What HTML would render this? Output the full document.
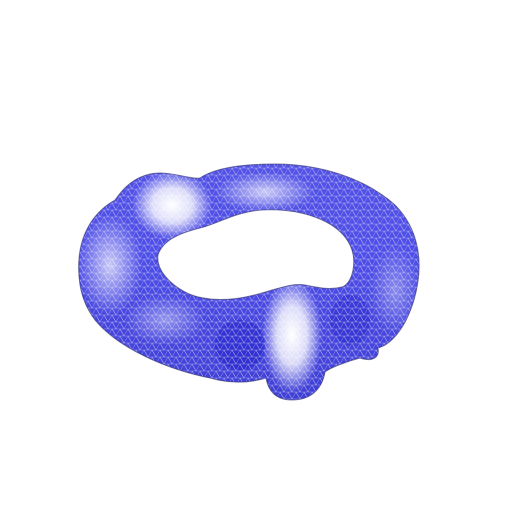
<!DOCTYPE html>
<html><head><meta charset="utf-8"><style>
html,body{margin:0;padding:0;background:#fff;width:512px;height:512px;overflow:hidden}
</style></head><body>
<svg width="512" height="512" viewBox="0 0 512 512">
<defs>
<pattern id="mesh" width="8" height="7" patternUnits="userSpaceOnUse">
<path d="M0 0L8 0M0 0L4 7L8 0M0 7L8 7M4 7L0 0" stroke="#ffffff" stroke-width="0.5" stroke-opacity="0.45" fill="none"/>
</pattern>
<linearGradient id="base" x1="0" y1="0" x2="0" y2="1">
<stop offset="0" stop-color="#5a5ae4"/>
<stop offset="0.5" stop-color="#4e4ee8"/>
<stop offset="1" stop-color="#3434c8"/>
</linearGradient>
<radialGradient id="h1" cx="0.5" cy="0.5" r="0.5"><stop offset="0" stop-color="#fff" stop-opacity="1"/><stop offset="0.5" stop-color="#fff" stop-opacity="0.8"/><stop offset="1" stop-color="#fff" stop-opacity="0"/></radialGradient>
<radialGradient id="h2" cx="0.5" cy="0.5" r="0.5"><stop offset="0" stop-color="#fff" stop-opacity="0.7"/><stop offset="1" stop-color="#fff" stop-opacity="0"/></radialGradient>
<path id="shape" fill-rule="evenodd" clip-rule="evenodd" d="M80,285 C74,245 88,215 115,200 C122,190 132,178 150,174 C170,170 190,180 200,178 C215,168 240,164 275,164 C320,164 365,178 395,205 C418,228 425,262 414,300 C405,330 390,345 378,348 C380,358 372,362 360,358 C345,362 330,368 325,372 C322,390 310,400 292,400 C275,400 268,390 266,378 C250,383 230,384 210,378 C170,370 120,350 95,320 C86,308 82,297 80,285 Z M158,255 C163,240 180,233 200,228 C220,223 235,212 262,210 C300,208 338,220 350,245 C358,262 352,284 342,287 C330,290 320,288 305,285 C290,282 270,292 250,296 C225,302 200,300 185,292 C170,284 156,270 158,255 Z"/>
<clipPath id="clip"><use href="#shape" clip-rule="evenodd"/></clipPath>
</defs>
<g clip-path="url(#clip)">
<rect x="0" y="0" width="512" height="512" fill="url(#base)"/>
<ellipse cx="265" cy="192" rx="50" ry="20" fill="url(#h2)"/>
<ellipse cx="172" cy="205" rx="40" ry="34" fill="url(#h1)"/>
<ellipse cx="110" cy="265" rx="32" ry="50" fill="url(#h2)"/>
<ellipse cx="165" cy="320" rx="40" ry="25" fill="url(#h2)" opacity="0.6"/>
<ellipse cx="292" cy="335" rx="30" ry="58" fill="url(#h1)"/>
<ellipse cx="395" cy="290" rx="25" ry="45" fill="url(#h2)" opacity="0.5"/>
<ellipse cx="240" cy="345" rx="25" ry="25" fill="#1010c0" opacity="0.35"/>
<ellipse cx="350" cy="320" rx="20" ry="25" fill="#1818c0" opacity="0.3"/>
<rect x="0" y="0" width="512" height="512" fill="url(#mesh)"/>
</g>
<use href="#shape" fill="none" stroke="#30306a" stroke-width="1" stroke-opacity="0.6"/>
</svg>
</body></html>
